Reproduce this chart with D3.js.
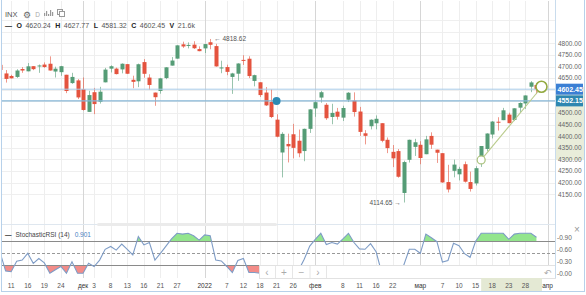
<!DOCTYPE html>
<html>
<head>
<meta charset="utf-8">
<script src="https://cdn.jsdelivr.net/npm/d3@7"></script>
<style>
body { margin: 0; background: #fff; }
svg { display: block; font-family: "Liberation Sans", Arial, sans-serif; }
</style>
</head>
<body>
<svg id="chart" width="586" height="295"></svg>
<script>
// торговые дни (последние два — пустые слоты справа)
const dates = [
  "2021-11-09","2021-11-10","2021-11-11","2021-11-12","2021-11-15","2021-11-16","2021-11-17","2021-11-18","2021-11-19","2021-11-22","2021-11-23","2021-11-24","2021-11-26","2021-11-29","2021-11-30",
  "2021-12-01","2021-12-02","2021-12-03","2021-12-06","2021-12-07","2021-12-08","2021-12-09","2021-12-10","2021-12-13","2021-12-14","2021-12-15","2021-12-16","2021-12-17","2021-12-20","2021-12-21","2021-12-22","2021-12-23","2021-12-27","2021-12-28","2021-12-29","2021-12-30","2021-12-31",
  "2022-01-03","2022-01-04","2022-01-05","2022-01-06","2022-01-07","2022-01-10","2022-01-11","2022-01-12","2022-01-13","2022-01-14","2022-01-18","2022-01-19","2022-01-20","2022-01-21","2022-01-24","2022-01-25","2022-01-26","2022-01-27","2022-01-28","2022-01-31",
  "2022-02-01","2022-02-02","2022-02-03","2022-02-04","2022-02-07","2022-02-08","2022-02-09","2022-02-10","2022-02-11","2022-02-14","2022-02-15","2022-02-16","2022-02-17","2022-02-18","2022-02-22","2022-02-23","2022-02-24","2022-02-25","2022-02-28",
  "2022-03-01","2022-03-02","2022-03-03","2022-03-04","2022-03-07","2022-03-08","2022-03-09","2022-03-10","2022-03-11","2022-03-14","2022-03-15","2022-03-16","2022-03-17","2022-03-18","2022-03-21","2022-03-22","2022-03-23","2022-03-24","2022-03-25","2022-03-28","2022-03-29","2022-03-30",
  "2022-03-31","2022-04-01"
];

const opens = [
  4707.25,4670.26,4659.39,4655.24,4689.30,4679.42,4701.50,4700.72,4708.44,4712.00,4678.48,4675.78,4664.63,4628.75,4640.25,
  4602.82,4504.73,4589.49,4548.37,4631.97,4690.86,4691.00,4687.64,4710.30,4642.99,4636.46,4719.13,4652.50,4587.90,4594.96,4650.36,4703.96,4733.99,4795.49,4788.64,4794.23,4775.21,
  4778.14,4804.51,4787.99,4693.39,4697.66,4655.34,4669.14,4728.59,4733.56,4637.99,4632.24,4588.03,4547.35,4471.38,4330.00,4366.64,4408.43,4380.58,4336.19,4431.79,
  4519.57,4566.39,4535.41,4482.79,4505.75,4480.02,4557.00,4553.24,4506.27,4412.61,4443.00,4455.75,4456.06,4384.57,4332.74,4336.00,4155.77,4298.38,4354.17,
  4363.14,4322.56,4401.31,4342.12,4327.01,4202.66,4251.00,4236.00,4279.50,4202.75,4197.00,4305.00,4345.11,4407.34,4462.40,4469.10,4493.10,4469.98,4522.91,4541.09,4613.00,4620.24
];
const highs = [
  4708.53,4684.85,4664.55,4688.47,4697.42,4714.95,4701.50,4708.80,4717.75,4743.83,4699.39,4702.87,4664.63,4672.95,4646.02,
  4652.94,4595.46,4608.03,4612.60,4694.04,4705.06,4695.26,4713.57,4710.30,4660.47,4712.60,4731.99,4666.70,4587.90,4651.14,4697.67,4740.74,4791.49,4807.02,4804.06,4808.93,4786.83,
  4796.64,4818.62,4797.70,4725.01,4707.95,4673.02,4714.13,4748.83,4744.13,4665.13,4632.24,4611.55,4602.11,4494.52,4417.35,4411.01,4453.23,4428.74,4432.72,4516.89,
  4550.49,4595.31,4542.88,4539.66,4521.86,4531.32,4590.03,4588.92,4526.33,4426.22,4472.77,4489.55,4456.06,4394.60,4362.12,4345.00,4294.73,4385.34,4388.84,
  4378.45,4401.48,4416.78,4342.12,4327.01,4276.94,4299.40,4268.28,4291.01,4247.57,4271.05,4357.86,4412.67,4465.40,4481.75,4522.00,4501.07,4520.58,4546.03,4575.65,4637.30,4627.77
];
const lows = [
  4670.87,4630.86,4648.31,4650.77,4672.86,4679.42,4684.41,4672.78,4694.22,4682.17,4652.66,4659.89,4585.43,4625.26,4560.00,
  4510.27,4504.73,4495.12,4540.51,4631.97,4674.52,4665.98,4670.64,4667.60,4606.52,4611.22,4651.89,4600.22,4531.10,4583.16,4645.53,4703.96,4733.99,4780.04,4778.08,4775.33,4765.75,
  4758.17,4774.27,4699.44,4671.26,4662.74,4582.24,4638.27,4706.71,4650.29,4614.75,4568.70,4530.20,4477.95,4395.34,4222.62,4287.11,4304.80,4309.50,4292.46,4414.02,
  4483.53,4544.32,4470.39,4451.50,4471.47,4465.40,4547.00,4484.31,4401.41,4364.84,4429.28,4429.68,4373.81,4327.22,4267.11,4221.51,4114.65,4286.83,4315.12,
  4279.54,4322.56,4345.56,4284.98,4199.85,4157.87,4223.10,4209.80,4200.49,4161.72,4187.90,4267.92,4335.65,4390.57,4424.30,4469.10,4455.81,4465.17,4501.07,4517.69,4589.66,4581.32
];
const closes = [
  4685.25,4646.71,4649.27,4682.85,4682.80,4700.90,4688.67,4704.54,4697.96,4682.94,4690.70,4701.46,4594.62,4655.27,4567.00,
  4513.04,4577.10,4538.43,4591.67,4686.75,4701.21,4667.45,4712.02,4668.97,4634.09,4709.85,4668.67,4620.64,4568.02,4649.23,4696.56,4725.79,4791.19,4786.35,4793.06,4778.73,4766.18,
  4796.56,4793.54,4700.58,4696.05,4677.03,4670.29,4713.07,4726.35,4659.03,4662.85,4577.11,4532.76,4482.73,4397.94,4410.13,4356.45,4349.93,4326.51,4431.85,4515.55,
  4546.54,4589.38,4477.44,4500.53,4483.87,4521.54,4587.18,4504.08,4418.64,4401.67,4471.07,4475.01,4380.26,4348.87,4304.76,4225.50,4288.70,4384.65,4373.94,
  4306.26,4386.54,4363.49,4328.87,4201.09,4170.70,4277.88,4259.52,4204.31,4173.11,4262.45,4357.86,4411.67,4463.12,4461.18,4511.61,4456.24,4520.16,4543.06,4575.52,4631.60,4602.45
];

// StochasticRSI (14)
const stoch = [
  0.52,0.06,0.04,0.30,0.33,0.50,0.25,0.37,0.26,0.00,
  0.09,0.17,0.00,0.29,0.00,0.00,0.25,0.17,0.33,0.60,
  0.67,0.58,0.73,0.60,0.46,0.92,0.71,0.77,0.33,0.50,
  0.68,0.86,1.00,0.98,1.00,0.94,0.83,0.96,0.94,0.33,
  0.31,0.17,0.02,0.32,0.37,0.02,0.02,0.00,0.00,0.00,
  0.00,0.00,0.00,0.00,0.08,0.35,0.68,0.85,1.00,0.72,
  0.77,0.73,0.86,1.00,0.77,0.61,0.60,0.74,0.54,0.02,
  0.00,0.00,0.00,0.20,0.60,0.60,0.50,0.98,0.89,0.79,
  0.28,0.32,0.75,0.69,0.49,0.40,0.80,1.00,1.00,1.00,
  1.00,1.00,0.85,0.98,1.00,1.00,1.00,0.901
];

const tickDates = ["2021-11-11","2021-11-16","2021-11-19","2021-11-24","2021-12-01","2021-12-03","2021-12-08","2021-12-13","2021-12-16","2021-12-21","2021-12-27","2022-01-03","2022-01-07","2022-01-12","2022-01-18","2022-01-21","2022-01-26","2022-02-01","2022-02-08","2022-02-11","2022-02-16","2022-02-22","2022-03-01","2022-03-07","2022-03-10","2022-03-15","2022-03-18","2022-03-23","2022-03-28","2022-04-01"];
const tickLabels = ["11","16","19","24","дек","3","8","13","16","21","27","2022","7","12","18","21","26","фев","8","11","16","22","мар","7","10","15","18","23","28","апр"];
const monthTicks = ["дек","2022","фев","мар","апр"];

const priceTicks = [4150,4200,4250,4300,4350,4400,4450,4500,4550,4600,4650,4700,4750,4800];
const stochTicks = [0, 0.3, 0.6, 0.9];
const stochLevels = [0.2, 0.5, 0.8];

const lastPrice = 4602.45;
const hLinePrice = 4552.15;
const hLineDot = "2022-01-21";
const trendStart = { date: "2022-03-16", price: 4298 };
const trendEnd = { date: "2022-03-31", price: 4613 };

// размеры
const W = 586, H = 295;
const left = 2, right = 555;
const mainTop = 1, mainBottom = 223;
const stTop = 227, stBottom = 278;

const svg = d3.select("#chart");
const fmt = d3.format(".2f");

const x = d3.scaleLinear().domain([0, dates.length - 1]).range([0.1, 547.5]);
const y = d3.scaleLinear().domain([4150, 4800]).range([194.3, 43.3]);
const ys = d3.scaleLinear().domain([0, 0.9]).range([273.3, 237.3]);
const xi = d => x(dates.indexOf(d));

const defs = svg.append("defs");
defs.append("clipPath").attr("id", "clipMain").append("rect")
  .attr("x", left).attr("y", mainTop).attr("width", right - left).attr("height", mainBottom - mainTop);
defs.append("clipPath").attr("id", "clipSt").append("rect")
  .attr("x", left).attr("y", stTop).attr("width", right - left).attr("height", stBottom - stTop);
defs.append("clipPath").attr("id", "clipUp").append("rect")
  .attr("x", left).attr("y", stTop).attr("width", right - left).attr("height", ys(0.8) - stTop);
defs.append("clipPath").attr("id", "clipDown").append("rect")
  .attr("x", left).attr("y", ys(0.2)).attr("width", right - left).attr("height", stBottom - ys(0.2));

// сетка
const grid = svg.append("g");
grid.selectAll(".hg").data(d3.range(4150, 4901, 50)).enter().append("line")
  .attr("x1", left).attr("x2", right)
  .attr("y1", d => Math.round(y(d)) + 0.5).attr("y2", d => Math.round(y(d)) + 0.5)
  .attr("stroke", "#efefef");
grid.selectAll(".vg").data(tickDates).enter().append("line")
  .attr("x1", d => Math.round(xi(d)) + 0.5).attr("x2", d => Math.round(xi(d)) + 0.5)
  .attr("y1", mainTop).attr("y2", stBottom)
  .attr("stroke", (d, i) => monthTicks.includes(tickLabels[i]) ? "#d6d6d6" : "#eeeeee");

// свечи
const main = svg.append("g").attr("clip-path", "url(#clipMain)");
const idx = d3.range(closes.length);
const green = "#559c76", red = "#e4533e";
const bw = 4;

main.selectAll(".wick").data(idx).enter().append("line")
  .attr("x1", i => Math.round(x(i)) + 0.5).attr("x2", i => Math.round(x(i)) + 0.5)
  .attr("y1", i => y(highs[i])).attr("y2", i => y(lows[i]))
  .attr("stroke", i => closes[i] >= opens[i] ? green : red)
  .attr("stroke-opacity", 0.6);

main.selectAll(".body").data(idx).enter().append("rect")
  .attr("x", i => Math.round(x(i)) + 0.5 - bw / 2)
  .attr("width", bw)
  .attr("y", i => y(Math.max(opens[i], closes[i])))
  .attr("height", i => Math.max(1, Math.abs(y(opens[i]) - y(closes[i]))))
  .attr("fill", i => closes[i] >= opens[i] ? green : red);

// горизонтальные линии
main.append("line").attr("x1", left).attr("x2", right)
  .attr("y1", y(lastPrice)).attr("y2", y(lastPrice))
  .attr("stroke", "#a9cbe8").attr("stroke-width", 1);
main.append("line").attr("x1", left).attr("x2", right)
  .attr("y1", y(hLinePrice)).attr("y2", y(hLinePrice))
  .attr("stroke", "#86b6d6").attr("stroke-width", 1.3);
main.append("circle").attr("cx", xi(hLineDot)).attr("cy", y(hLinePrice)).attr("r", 4)
  .attr("fill", "#2c8ab3");

// трендовая линия
main.append("line")
  .attr("x1", xi(trendStart.date)).attr("y1", y(trendStart.price))
  .attr("x2", xi(trendEnd.date)).attr("y2", y(trendEnd.price))
  .attr("stroke", "#b9cb8c").attr("stroke-width", 1.1);
main.append("circle").attr("cx", xi(trendStart.date)).attr("cy", y(trendStart.price)).attr("r", 4)
  .attr("fill", "#fff").attr("stroke", "#a8c07a").attr("stroke-width", 1.2);
main.append("circle").attr("cx", xi(trendEnd.date) - 0.5).attr("cy", y(trendEnd.price)).attr("r", 5.5)
  .attr("fill", "#fff").attr("stroke", "#93aa42").attr("stroke-width", 1.6);

// максимум / минимум
const iMax = d3.maxIndex(highs), iMin = d3.minIndex(lows);
main.append("text").attr("x", x(iMax) + 4).attr("y", y(highs[iMax]) + 2.5)
  .attr("font-size", 6.5).attr("fill", "#555").text("\u2190 " + highs[iMax].toFixed(2));
main.append("text").attr("x", x(iMin) - 3).attr("y", y(lows[iMin]) + 2.5)
  .attr("text-anchor", "end").attr("font-size", 6.5).attr("fill", "#555")
  .text(lows[iMin].toFixed(2) + " \u2192");

// шкала цены
const pa = svg.append("g");
pa.append("rect").attr("x", right).attr("y", 0).attr("width", W - right).attr("height", stBottom).attr("fill", "#fff");
pa.append("rect").attr("x", right + 1).attr("width", 28)
  .attr("y", y(trendEnd.price)).attr("height", y(trendStart.price) - y(trendEnd.price))
  .attr("fill", "#e9edda");
pa.selectAll(".pt")
  .data(priceTicks.filter(d => Math.abs(y(d) - y(lastPrice)) > 6 && Math.abs(y(d) - y(hLinePrice)) > 6))
  .enter().append("text")
  .attr("x", 558).attr("y", d => y(d) + 2.3)
  .attr("font-size", 6.5).attr("fill", "#666").text(d => fmt(d));

function priceBox(p, color) {
  pa.append("rect").attr("x", right + 1).attr("y", y(p) - 5.5).attr("width", 27).attr("height", 11)
    .attr("fill", color);
  pa.append("text").attr("x", 557.5).attr("y", y(p) + 2.6)
    .attr("font-size", 7).attr("font-weight", "bold").attr("fill", "#fff").text(fmt(p));
}
priceBox(hLinePrice, "#2e87b0");
priceBox(lastPrice, "#3b7fd4");

// разделитель панелей
svg.append("line").attr("x1", left).attr("x2", right).attr("y1", 224.5).attr("y2", 224.5)
  .attr("stroke", "#dfe7ef");
svg.append("rect").attr("x", 97).attr("y", 223).attr("width", 180).attr("height", 3).attr("rx", 1.5)
  .attr("fill", "#ebebeb");

// StochasticRSI
const st = svg.append("g").attr("clip-path", "url(#clipSt)");
const area = d3.area().x((d, i) => x(i)).y1(d => ys(d));
st.append("path").datum(stoch).attr("clip-path", "url(#clipUp)")
  .attr("d", area.y0(ys(0.8))).attr("fill", "#93e58d");
st.append("path").datum(stoch).attr("clip-path", "url(#clipDown)")
  .attr("d", area.y0(ys(0.2))).attr("fill", "#f38c88");

st.selectAll(".lv").data(stochLevels).enter().append("line")
  .attr("x1", left).attr("x2", right)
  .attr("y1", d => Math.round(ys(d)) + 0.5).attr("y2", d => Math.round(ys(d)) + 0.5)
  .attr("stroke", d => d === 0.5 ? "#999" : "#8a8a8a")
  .attr("stroke-dasharray", d => d === 0.5 ? "3,2" : null);

st.append("path").datum(stoch)
  .attr("d", d3.line().x((d, i) => x(i)).y(d => ys(d)))
  .attr("fill", "none").attr("stroke", "#7e9cc6").attr("stroke-width", 1.1);

svg.selectAll(".st").data(stochTicks).enter().append("text")
  .attr("x", 557).attr("y", d => ys(d) + 2.3)
  .attr("font-size", 6.5).attr("fill", "#666").text(d => "-" + d.toFixed(2));

const stl = svg.append("text").attr("x", 5).attr("y", 236.5).attr("font-size", 6.5);
stl.append("tspan").attr("font-weight", "bold").attr("fill", "#333").text("\u2014");
stl.append("tspan").attr("dx", 4).attr("fill", "#444").text("StochasticRSI (14)");
stl.append("tspan").attr("dx", 5).attr("fill", "#4a80c4").text(stoch[stoch.length - 1].toFixed(3));
svg.append("text").attr("x", 577).attr("y", 233).attr("text-anchor", "middle")
  .attr("font-size", 10).attr("fill", "#999").text("\u00d7");

// навигация
const nav = svg.append("g");
nav.append("rect").attr("x", 259.5).attr("y", 265.5).attr("width", 296).attr("height", 13)
  .attr("fill", "#fff").attr("stroke", "#e2e2e2");
const navBtns = [["\u2039", 267], ["+", 284], ["\u2212", 301.5], ["\u203a", 318]];
nav.selectAll(".nb").data(navBtns).enter().append("text")
  .attr("x", d => d[1]).attr("y", 275.5).attr("text-anchor", "middle")
  .attr("font-size", 10).attr("fill", "#aaa").text(d => d[0]);
nav.selectAll(".ns").data([275.5, 292.5, 310, 326.5]).enter().append("line")
  .attr("x1", d => d).attr("x2", d => d).attr("y1", 266).attr("y2", 278)
  .attr("stroke", "#e6e6e6");
nav.append("text").attr("x", 548).attr("y", 275.5).attr("text-anchor", "middle")
  .attr("font-size", 9).attr("fill", "#aaa").text("\u21b6");

// шкала времени
const xa = svg.append("g");
xa.append("rect").attr("x", xi(trendStart.date)).attr("y", 278)
  .attr("width", xi(trendEnd.date) - xi(trendStart.date)).attr("height", 13)
  .attr("fill", "#e4e9d4");
xa.selectAll(".xt").data(tickDates).enter().append("text")
  .attr("x", d => xi(d)).attr("y", 287.5)
  .attr("text-anchor", "middle").attr("font-size", 6.5)
  .attr("fill", (d, i) => monthTicks.includes(tickLabels[i]) ? "#333" : "#555")
  .text((d, i) => tickLabels[i]);

// заголовок
const hd = svg.append("g");
hd.append("text").attr("x", 5).attr("y", 17).attr("font-size", 7.5).attr("fill", "#555").text("INX");
hd.append("text").attr("x", 26.5).attr("y", 17.5).attr("text-anchor", "middle")
  .attr("font-size", 9).attr("fill", "#666").text("\u2699");
hd.append("text").attr("x", 37.5).attr("y", 17).attr("text-anchor", "middle")
  .attr("font-size", 6.5).attr("fill", "#aaa").text("D");
hd.selectAll(".bi").data([[44, 3], [46, 5], [48, 2], [50, 6], [52, 4]]).enter().append("rect")
  .attr("x", d => d[0]).attr("y", d => 16 - d[1]).attr("width", 1.2).attr("height", d => d[1])
  .attr("fill", "#999");
hd.append("rect").attr("x", 57.5).attr("y", 9.5).attr("width", 5).attr("height", 5)
  .attr("fill", "none").attr("stroke", "#999");
hd.append("rect").attr("x", 59.5).attr("y", 11.5).attr("width", 5).attr("height", 5)
  .attr("fill", "#fff").attr("stroke", "#999");

const ohlc = [["O", 4620.24], ["H", 4627.77], ["L", 4581.32], ["C", 4602.45]];
const row = hd.append("text").attr("x", 5).attr("y", 28).attr("font-size", 7);
row.append("tspan").attr("font-weight", "bold").attr("fill", "#222").text("\u2014");
ohlc.forEach(d => {
  row.append("tspan").attr("dx", 4.5).attr("font-weight", "bold").attr("fill", "#222").text(d[0]);
  row.append("tspan").attr("dx", 3.5).attr("fill", "#555").text(d[1].toFixed(2));
});
row.append("tspan").attr("dx", 4.5).attr("font-weight", "bold").attr("fill", "#222").text("V");
row.append("tspan").attr("dx", 3.5).attr("fill", "#555").text("21.6k");

// рамка
const fr = svg.append("g").attr("fill", "none").attr("stroke", "#b7d1ea");
fr.append("line").attr("x1", 1.5).attr("x2", 1.5).attr("y1", 0).attr("y2", 292);
fr.append("line").attr("x1", 584.5).attr("x2", 584.5).attr("y1", 0).attr("y2", 292);
fr.append("line").attr("x1", 1).attr("x2", 585).attr("y1", 291.5).attr("y2", 291.5);
fr.append("line").attr("x1", right + 0.5).attr("x2", right + 0.5).attr("y1", 0).attr("y2", stBottom)
  .attr("stroke", "#c9dced");
</script>
</body>
</html>
